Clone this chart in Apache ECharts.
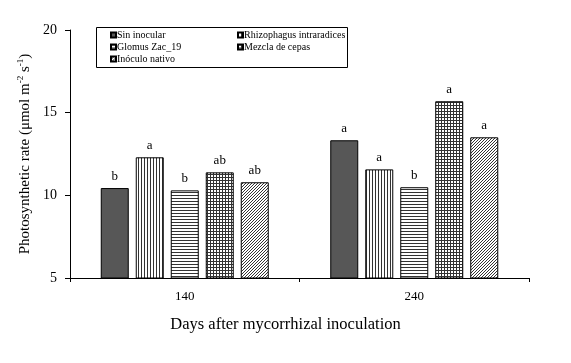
<!DOCTYPE html>
<html><head><meta charset="utf-8">
<script src="https://cdn.jsdelivr.net/npm/echarts@6/dist/echarts.min.js"></script>
<style>html,body{margin:0;padding:0;background:#fff}#c{width:571px;height:363px}</style>
</head><body><div id="c"></div>
<script>
var categories = ['140', '240'];
var seriesNames = ['Sin inocular', 'Rhizophagus intraradices', 'Glomus Zac_19', 'Mezcla de cepas', 'Inóculo nativo'];
var sinInocular = [10.44, 13.33];
var rhizophagus = [12.30, 11.57];
var glomus = [10.30, 10.49];
var mezcla = [11.39, 15.69];
var inoculo = [10.79, 13.51];
var lettersSin = ['b', 'a'];
var lettersRhizo = ['a', 'a'];
var lettersGlomus = ['b', 'b'];
var lettersMezcla = ['ab', 'a'];
var lettersInoculo = ['ab', 'a'];
var yTicks = [5, 10, 15, 20];

function makePattern(kind) {
  var c = document.createElement('canvas');
  var s = 3;
  c.width = s; c.height = s;
  var g = c.getContext('2d');
  g.fillStyle = '#fff'; g.fillRect(0, 0, s, s);
  g.fillStyle = '#333';
  if (kind === 'v') g.fillRect(0, 0, 1, s);
  if (kind === 'h') g.fillRect(0, 0, s, 1);
  if (kind === 'grid') { g.fillRect(0, 0, 1, s); g.fillRect(0, 0, s, 1); }
  if (kind === 'diag') {
    for (var i = 0; i < s; i++) g.fillRect(s - 1 - i, i, 1, 1);
  }
  return { image: c, repeat: 'repeat' };
}

var allData = [sinInocular, rhizophagus, glomus, mezcla, inoculo];
var allLetters = [lettersSin, lettersRhizo, lettersGlomus, lettersMezcla, lettersInoculo];
var fills = ['#575757', makePattern('v'), makePattern('h'), makePattern('grid'), makePattern('diag')];
var font = 'Liberation Serif';

var series = seriesNames.map(function (n, i) {
  return {
    name: n, type: 'bar', data: allData[i],
    barWidth: 28, barGap: '25%',
    itemStyle: { color: fills[i], borderColor: '#000', borderWidth: 1 },
    label: {
      show: true, position: 'top', distance: 5,
      fontFamily: font, fontSize: 13, color: '#000',
      formatter: function (p) { return allLetters[p.seriesIndex][p.dataIndex]; }
    }
  };
});

var legendText = { fontFamily: font, fontSize: 10, color: '#000', padding: [0, 0, 0, -4] };
var chart = echarts.init(document.getElementById('c'), null, { renderer: 'canvas' });
chart.setOption({
  animation: false,
  backgroundColor: '#fff',
  grid: { left: 70, right: 42, top: 30, bottom: 85 },
  legend: [
    { data: [seriesNames[0], seriesNames[2], seriesNames[4]], orient: 'vertical', left: 110, top: 30, padding: 0,
      itemWidth: 5, itemHeight: 5, itemGap: 2, icon: 'rect', textStyle: legendText },
    { data: [seriesNames[1], seriesNames[3]], orient: 'vertical', left: 237, top: 30, padding: 0,
      itemWidth: 5, itemHeight: 5, itemGap: 2, icon: 'rect', textStyle: legendText }
  ],
  graphic: [{ type: 'rect', shape: { x: 96.5, y: 27.5, width: 251, height: 40 },
    style: { fill: 'none', stroke: '#000', lineWidth: 1 }, z: 10 }],
  xAxis: {
    type: 'category', data: categories,
    axisLine: { lineStyle: { color: '#000', width: 1 } },
    axisTick: { show: true, length: 4, inside: false, lineStyle: { color: '#000' } },
    axisLabel: { fontFamily: font, fontSize: 13, color: '#000', margin: 12 },
    name: 'Days after mycorrhizal inoculation', nameLocation: 'middle', nameGap: 38,
    nameTextStyle: { fontFamily: font, fontSize: 16.5, color: '#000', padding: [0, 28, 0, 0] }
  },
  yAxis: {
    type: 'value', min: yTicks[0], max: yTicks[yTicks.length - 1], interval: 5,
    axisLine: { show: true, lineStyle: { color: '#000', width: 1 } },
    axisTick: { show: true, length: 5, lineStyle: { color: '#000' } },
    splitLine: { show: false },
    axisLabel: { fontFamily: font, fontSize: 14, color: '#000', margin: 13 },
    name: 'Photosynthetic rate (μmol m{sup|-2} s{sup|-1})',
    nameLocation: 'middle', nameGap: 32, nameRotate: 90,
    nameTextStyle: { fontFamily: font, fontSize: 15, color: '#000',
      rich: { sup: { fontFamily: font, fontSize: 9, color: '#000', verticalAlign: 'top', padding: [0, 0, 8, 0] } } }
  },
  series: series
});
</script></body></html>
